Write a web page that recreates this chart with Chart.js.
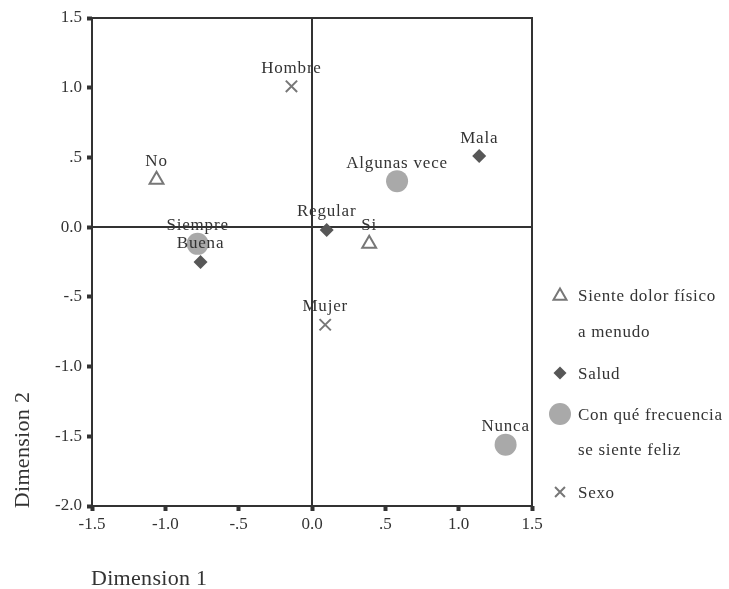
<!DOCTYPE html>
<html>
<head>
<meta charset="utf-8">
<script src="https://cdn.jsdelivr.net/npm/chart.js@4"></script>
<style>
  html, body { margin: 0; padding: 0; background: #fff; }
  #wrap { width: 729px; height: 589px; }
</style>
</head>
<body>
<div id="wrap"><canvas id="myChart" width="729" height="589"></canvas></div>
<script>
// point coordinates
const dolorLabels = ["No", "Si"];
const dolorX = [-1.06, 0.39];
const dolorY = [0.34, -0.12];

const saludLabels = ["Mala", "Regular", "Buena"];
const saludX = [1.14, 0.10, -0.76];
const saludY = [0.51, -0.02, -0.25];

const felizLabels = ["Algunas vece", "Siempre", "Nunca"];
const felizX = [0.58, -0.78, 1.32];
const felizY = [0.33, -0.12, -1.56];

const sexoLabels = ["Hombre", "Mujer"];
const sexoX = [-0.14, 0.09];
const sexoY = [1.01, -0.70];

const legendNames = [["Siente dolor físico", "a menudo"], ["Salud"], ["Con qué frecuencia", "se siente feliz"], ["Sexo"]];

const xTicks = [-1.5, -1.0, -0.5, 0.0, 0.5, 1.0, 1.5];
const yTicks = [-2.0, -1.5, -1.0, -0.5, 0.0, 0.5, 1.0, 1.5];

const SERIF = "'Liberation Serif', 'DejaVu Serif', serif";
const INK = "#333";

function points(xs, ys) {
	return xs.map((x, i) => ({ x: x, y: ys[i] }));
}

// SPSS style tick text: ".5", "-.5", "0.0", "1.0"
function spssTick(v) {
	if (Math.abs(v) < 1e-9) return "0.0";
	let s = Math.abs(v).toFixed(1);
	if (s.startsWith("0")) s = s.slice(1);
	return (v < 0 ? "-" : "") + s;
}

const datasets = [
	{
		label: "dolor",
		names: dolorLabels,
		data: points(dolorX, dolorY),
		pointStyle: "triangle",
		pointRadius: 8,
		legendRadius: 7.5,
		borderWidth: 2,
		borderColor: "#777",
		backgroundColor: "rgba(0,0,0,0)",
	},
	{
		label: "salud",
		names: saludLabels,
		data: points(saludX, saludY),
		pointStyle: "rectRot",
		pointRadius: 7,
		legendRadius: 6.5,
		borderWidth: 0,
		borderColor: "#575757",
		backgroundColor: "#575757",
	},
	{
		label: "feliz",
		names: felizLabels,
		data: points(felizX, felizY),
		pointStyle: "circle",
		pointRadius: 11,
		legendRadius: 11,
		borderWidth: 0,
		borderColor: "#a9a9a9",
		backgroundColor: "#a9a9a9",
	},
	{
		label: "sexo",
		names: sexoLabels,
		data: points(sexoX, sexoY),
		pointStyle: "crossRot",
		pointRadius: 8,
		legendRadius: 7,
		borderWidth: 2,
		borderColor: "#777",
		backgroundColor: "#777",
	},
];

const extras = {
	id: "extras",
	beforeDatasetsDraw(chart) {
		const ctx = chart.ctx;
		const a = chart.chartArea;
		const xs = chart.scales.x, ys = chart.scales.y;
		ctx.save();
		ctx.strokeStyle = "#333";
		ctx.lineWidth = 2;
		ctx.strokeRect(a.left, a.top, a.right - a.left, a.bottom - a.top);
		// reference lines through 0
		ctx.beginPath();
		const x0 = Math.round(xs.getPixelForValue(0));
		const y0 = Math.round(ys.getPixelForValue(0));
		ctx.moveTo(x0, a.top);
		ctx.lineTo(x0, a.bottom);
		ctx.moveTo(a.left, y0);
		ctx.lineTo(a.right, y0);
		ctx.stroke();
		ctx.restore();
	},
	afterDatasetsDraw(chart) {
		const ctx = chart.ctx;
		ctx.save();
		ctx.font = "17px " + SERIF;
		ctx.letterSpacing = "0.8px";
		ctx.fillStyle = INK;
		ctx.textAlign = "center";
		ctx.textBaseline = "middle";
		chart.data.datasets.forEach((ds, i) => {
			chart.getDatasetMeta(i).data.forEach((pt, j) => {
				ctx.fillText(ds.names[j], pt.x, pt.y - 18);
			});
		});

		// axis titles
		ctx.font = "22px " + SERIF;
		ctx.letterSpacing = "0.3px";
		ctx.textAlign = "left";
		ctx.fillText("Dimension 1", 91, 579);
		ctx.save();
		ctx.translate(23, 450);
		ctx.rotate(-Math.PI / 2);
		ctx.textAlign = "center";
		ctx.fillText("Dimension 2", 0, 0);
		ctx.restore();

		// legend
		const lx = 560, tx = 578;
		const rows = [
			[296, [297, 333]],
			[373, [375]],
			[414, [416, 451]],
			[492, [494]],
		];
		ctx.font = "17px " + SERIF;
		ctx.letterSpacing = "0.7px";
		ctx.textAlign = "left";
		rows.forEach((row, i) => {
			const ds = chart.data.datasets[i];
			ctx.fillStyle = ds.backgroundColor;
			ctx.strokeStyle = ds.borderColor;
			ctx.lineWidth = ds.borderWidth;
			Chart.helpers.drawPoint(ctx, {
				pointStyle: ds.pointStyle,
				radius: ds.legendRadius,
				borderWidth: ds.borderWidth,
			}, lx, row[0]);
			ctx.fillStyle = INK;
			legendNames[i].forEach((line, k) => ctx.fillText(line, tx, row[1][k]));
		});
		ctx.restore();
	},
};

const ctx = document.getElementById("myChart").getContext("2d");
const chart = new Chart(ctx, {
	type: "scatter",
	data: { datasets: datasets },
	options: {
		responsive: false,
		animation: false,
		devicePixelRatio: 1,
		layout: { padding: { left: 0, top: 18, right: 197, bottom: 0 } },
		plugins: { legend: { display: false }, tooltip: { enabled: false } },
		scales: {
			x: {
				min: -1.5,
				max: 1.5,
				afterBuildTicks: (s) => { s.ticks = xTicks.map((v) => ({ value: v })); },
				afterFit: (s) => { s.height = 83; },
				grid: { drawOnChartArea: false, tickLength: 5, tickWidth: 4, tickColor: "#333" },
				border: { display: false },
				ticks: {
					color: INK,
					font: { family: SERIF, size: 17 },
					padding: 3,
					maxRotation: 0,
					callback: (v) => spssTick(v),
				},
			},
			y: {
				min: -2.0,
				max: 1.5,
				afterBuildTicks: (s) => { s.ticks = yTicks.map((v) => ({ value: v })); },
				afterFit: (s) => { s.width = 92; },
				grid: { drawOnChartArea: false, tickLength: 5, tickWidth: 4, tickColor: "#333" },
				border: { display: false },
				ticks: {
					color: INK,
					font: { family: SERIF, size: 17 },
					padding: 5,
					callback: (v) => spssTick(v),
				},
			},
		},
	},
	plugins: [extras],
});
</script>
</body>
</html>
